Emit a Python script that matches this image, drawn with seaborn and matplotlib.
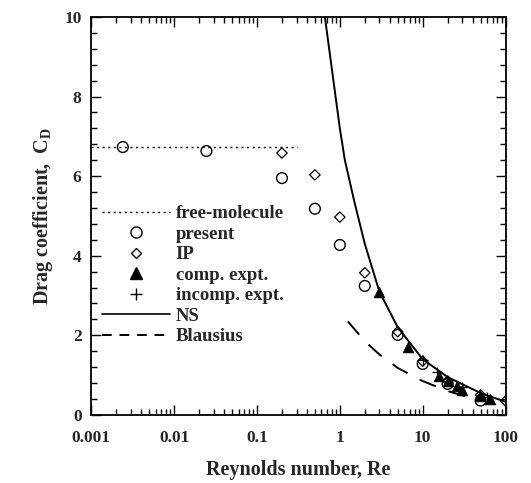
import numpy as np
import pandas as pd
import matplotlib
matplotlib.use("Agg")
import matplotlib.pyplot as plt
from matplotlib.ticker import LogLocator, MultipleLocator, NullFormatter, FixedLocator, FixedFormatter
from matplotlib.lines import Line2D
import seaborn as sns

# ---- data ----
fm_re = [0.001, 0.3]
fm_cd = [6.73, 6.73]

present_re = [0.0024, 0.0245, 0.2, 0.5, 1.0, 2.0, 5.0, 10.0, 20.0, 50.0]
present_cd = [6.73, 6.63, 5.95, 5.18, 4.27, 3.24, 2.01, 1.28, 0.78, 0.36]

ip_re = [0.2, 0.5, 1.0, 2.0, 5.0, 10.0, 20.0, 50.0, 100.0]
ip_cd = [6.58, 6.03, 4.97, 3.57, 2.09, 1.35, 0.85, 0.50, 0.35]

comp_re = [3.0, 6.6, 15.7, 20.0, 26.0, 30.0, 49.0, 65.0]
comp_cd = [3.10, 1.70, 0.97, 0.85, 0.72, 0.62, 0.47, 0.40]

incomp_re = [10.0, 15.0, 30.0, 60.0]
incomp_cd = [1.38, 1.08, 0.70, 0.45]

ns_re = [0.66, 0.8, 1.0, 1.15, 1.5, 2.0, 3.0, 5.0, 10.0, 20.0, 50.0, 100.0]
ns_cd = [10.0, 8.7, 7.2, 6.4, 5.35, 4.3, 3.1, 2.2, 1.4, 0.95, 0.55, 0.33]

bl_re = [1.25, 2.0, 3.0, 5.0, 10.0, 20.0, 35.0]
bl_cd = [2.35, 1.85, 1.52, 1.18, 0.85, 0.60, 0.45]

xticks = [0.001, 0.01, 0.1, 1, 10, 100]
xtick_labels = ["0.001", "0.01", "0.1", "1", "10", "100"]
yticks = [0, 2, 4, 6, 8, 10]

sns.set_style("ticks")
plt.rcParams["font.family"] = ["Liberation Serif", "DejaVu Serif"]
plt.rcParams["font.weight"] = "bold"
plt.rcParams["mathtext.fontset"] = "custom"
plt.rcParams["mathtext.rm"] = "Liberation Serif:bold"
plt.rcParams["mathtext.bf"] = "Liberation Serif:bold"

fig = plt.figure(figsize=(5.31, 4.83), dpi=100)
ax = fig.add_axes([0.172, 0.141, 0.780, 0.824])

df_fm = pd.DataFrame({"Re": fm_re, "CD": fm_cd})
df_ns = pd.DataFrame({"Re": ns_re, "CD": ns_cd})
df_bl = pd.DataFrame({"Re": bl_re, "CD": bl_cd})
df_p = pd.DataFrame({"Re": present_re, "CD": present_cd})
df_ip = pd.DataFrame({"Re": ip_re, "CD": ip_cd})
df_c = pd.DataFrame({"Re": comp_re, "CD": comp_cd})
df_i = pd.DataFrame({"Re": incomp_re, "CD": incomp_cd})

sns.lineplot(data=df_fm, x="Re", y="CD", ax=ax, color="black", lw=1.0,
             linestyle=(0, (1.5, 2.5)), estimator=None, sort=False)
sns.lineplot(data=df_ns, x="Re", y="CD", ax=ax, color="black", lw=1.4,
             estimator=None, sort=False)
sns.lineplot(data=df_bl, x="Re", y="CD", ax=ax, color="black", lw=1.4,
             linestyle=(0, (9, 7)), estimator=None, sort=False)
sns.scatterplot(data=df_p, x="Re", y="CD", ax=ax, marker="o", s=60,
                facecolor="none", edgecolor="black", linewidth=1.0, zorder=5)
sns.scatterplot(data=df_ip, x="Re", y="CD", ax=ax, marker="D", s=28,
                facecolor="none", edgecolor="black", linewidth=0.9, zorder=5)
sns.scatterplot(data=df_c, x="Re", y="CD", ax=ax, marker="^", s=60,
                color="black", edgecolor="black", linewidth=0.5, zorder=6)
sns.scatterplot(data=df_i, x="Re", y="CD", ax=ax, marker="+", s=50,
                color="black", linewidth=0.9, zorder=6)

ax.set_xscale("log")
ax.set_xlim(0.001, 100)
ax.set_ylim(0, 10)
ax.xaxis.set_major_locator(FixedLocator(xticks))
ax.xaxis.set_major_formatter(FixedFormatter(xtick_labels))
ax.xaxis.set_minor_locator(LogLocator(base=10, subs=np.arange(2, 10)))
ax.xaxis.set_minor_formatter(NullFormatter())
ax.yaxis.set_major_locator(FixedLocator(yticks))
ax.yaxis.set_minor_locator(MultipleLocator(0.4))

ax.tick_params(which="both", direction="in", top=True, right=True,
               labelsize=12.5, width=1.0, color="black")
ax.tick_params(axis="x", which="major", pad=11)
ax.tick_params(axis="y", which="major", pad=7)
ax.tick_params(which="major", length=7)
ax.tick_params(which="minor", length=4)
for lab in ax.get_xticklabels() + ax.get_yticklabels():
    lab.set_fontweight("bold")
for sp in ax.spines.values():
    sp.set_linewidth(1.3)
    sp.set_color("black")

ax.set_xlabel("Reynolds number, Re", fontsize=14.5, fontweight="bold", labelpad=10)
ax.set_ylabel(r"Drag coefficient,  C$_{\mathrm{D}}$", fontsize=14.5,
              fontweight="bold", labelpad=7)

handles = [
    Line2D([], [], color="black", lw=1.0, linestyle=(0, (1.5, 2.5))),
    Line2D([], [], marker="o", linestyle="none", markersize=8,
           markerfacecolor="none", markeredgecolor="black"),
    Line2D([], [], marker="D", linestyle="none", markersize=5.5,
           markerfacecolor="none", markeredgecolor="black"),
    Line2D([], [], marker="^", linestyle="none", markersize=8, color="black"),
    Line2D([], [], marker="+", linestyle="none", markersize=8, color="black"),
    Line2D([], [], color="black", lw=1.2),
    Line2D([], [], color="black", lw=1.4, linestyle=(0, (5, 4))),
]
labels = ["free-molecule", "present", "IP", "comp. expt.", "incomp. expt.",
          "NS", "Blausius"]
leg = ax.legend(handles, labels, loc="upper left", bbox_to_anchor=(-0.005, 0.56),
                frameon=False, fontsize=13.5, handlelength=3.6,
                handletextpad=0.3, labelspacing=0.18, borderaxespad=0.3)
for t in leg.get_texts():
    t.set_fontweight("bold")

fig.savefig("out.png", dpi=100)
